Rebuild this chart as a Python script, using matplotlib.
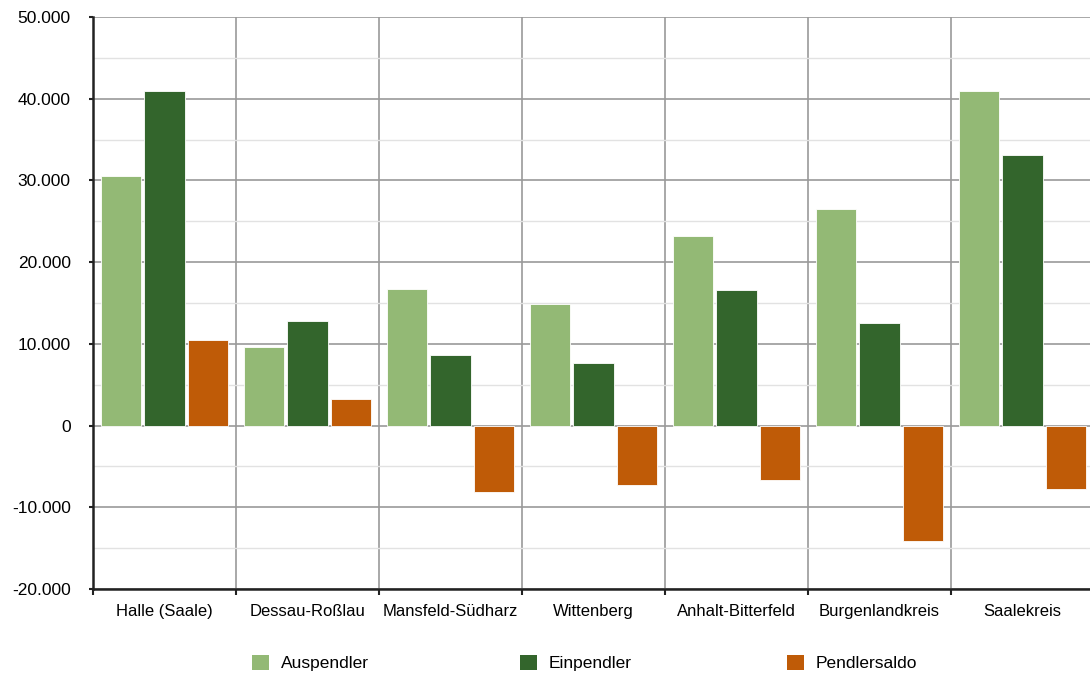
import matplotlib
matplotlib.use("Agg")
import matplotlib.pyplot as plt
from matplotlib.ticker import FuncFormatter, MultipleLocator
from matplotlib.patches import Patch
import numpy as np

plt.rcParams['font.family'] = ['Liberation Sans', 'DejaVu Sans']

kreise = ["Halle (Saale)", "Dessau-Roßlau", "Mansfeld-Südharz", "Wittenberg",
          "Anhalt-Bitterfeld", "Burgenlandkreis", "Saalekreis"]
auspendler = [30500, 9600, 16700, 14900, 23200, 26500, 41000]
einpendler = [41000, 12800, 8600, 7600, 16600, 12500, 33100]
pendlersaldo = [10500, 3200, -8100, -7300, -6600, -14100, -7800]

series_names = ["Auspendler", "Einpendler", "Pendlersaldo"]
colors = ["#93b975", "#33652c", "#bf5b07"]

fig = plt.figure(figsize=(10.9, 6.73), dpi=100)
ax = fig.add_axes([93 / 1090, 1 - 589 / 673, (1094 - 93) / 1090, (589 - 17) / 673])

x = np.arange(len(kreise))
width = 0.28
step = 0.307
for i, (vals, col) in enumerate(zip([auspendler, einpendler, pendlersaldo], colors)):
    ax.bar(x + (i - 1) * step, vals, width=width, color=col,
           edgecolor="white", linewidth=0.6, zorder=3)

ax.set_xlim(-0.5, len(kreise) - 0.5)
ax.set_ylim(-20000, 50000)

ax.yaxis.set_major_locator(MultipleLocator(10000))
ax.yaxis.set_minor_locator(MultipleLocator(5000))
ax.yaxis.set_major_formatter(FuncFormatter(lambda v, p: f"{int(v):,}".replace(",", ".")))
ax.grid(axis="y", which="major", color="#9a9a9a", linewidth=1.2, zorder=1)
ax.grid(axis="y", which="minor", color="#e2e2e2", linewidth=1.0, zorder=0)

# category separators
ax.set_xticks(x)
ax.set_xticklabels(kreise)
ax.set_xticks(np.arange(len(kreise) + 1) - 0.5, minor=True)
ax.grid(axis="x", which="minor", color="#9a9a9a", linewidth=1.2, zorder=1)
ax.tick_params(axis="x", which="major", length=0, pad=11, labelsize=12)
ax.tick_params(axis="x", which="minor", length=4, width=1.5, color="#222222")
ax.tick_params(axis="y", which="major", length=3, width=1.5, color="#222222",
               labelsize=12.5, pad=13)
ax.tick_params(axis="y", which="minor", length=0)

for s in ["top", "right"]:
    ax.spines[s].set_visible(False)
for s in ["left", "bottom"]:
    ax.spines[s].set_color("#222222")
    ax.spines[s].set_linewidth(1.8)

# legend entries laid out in a single row
legend_x = [252 / 1090, 520 / 1090, 787 / 1090]
for name, col, lx in zip(series_names, colors, legend_x):
    fig.legend(handles=[Patch(facecolor=col, edgecolor="none")], labels=[name],
               loc="center left", bbox_to_anchor=(lx, 1 - 663 / 673),
               frameon=False, fontsize=12.5, handlelength=1.0, handleheight=1.0,
               handletextpad=0.65, borderpad=0, borderaxespad=0)

fig.savefig("out.png", dpi=100)
